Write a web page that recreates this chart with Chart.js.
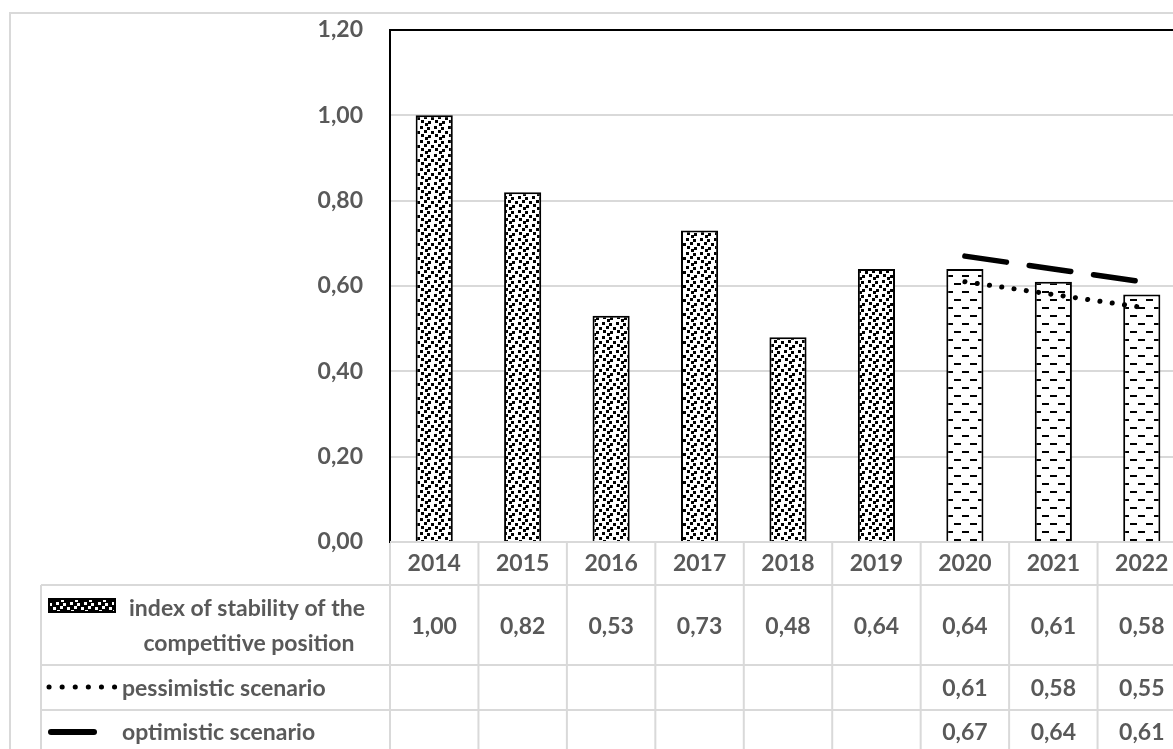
<!DOCTYPE html>
<html><head><meta charset="utf-8">
<script src="https://cdn.jsdelivr.net/npm/chart.js@4/dist/chart.umd.min.js"></script>
<style>
html,body{margin:0;padding:0;background:#fff;overflow:hidden;}
#wrap{width:1173px;height:749px;overflow:hidden;position:relative;}
canvas{display:block;}
</style></head><body>
<div id="wrap"><canvas id="c" width="1186" height="749"></canvas></div>
<script>
// ---- data ----
const years = ['2014','2015','2016','2017','2018','2019','2020','2021','2022'];
const stabilityIndex = [1.00, 0.82, 0.53, 0.73, 0.48, 0.64, 0.64, 0.61, 0.58];
const pessimistic = [null, null, null, null, null, null, 0.61, 0.58, 0.55];
const optimistic  = [null, null, null, null, null, null, 0.67, 0.64, 0.61];
const seriesNames = ['index of stability of the competitive position', 'pessimistic scenario', 'optimistic scenario'];
const seriesNameLines = ['index of stability of the', 'competitive position'];
const forecastFrom = '2020';
const yMax = 1.2;
const yStep = 0.2;

const fmt = v => (v == null ? '' : Number(v).toFixed(2).replace('.', ','));
const TEXT = '#595959';
const GRID = '#d9d9d9';
const FSIZE = 23;
const FONT = '700 ' + FSIZE + 'px Lato';

const canvas = document.getElementById('c');
const ctx = canvas.getContext('2d');

function makeConfetti(bg, fg) {
  const S = 14;
  const c = document.createElement('canvas'); c.width = S; c.height = S;
  const g = c.getContext('2d');
  g.fillStyle = bg; g.fillRect(0, 0, S, S);
  g.fillStyle = fg;
  [[0,0],[7,1],[4,4],[11,5],[1,8],[8,9],[5,11]].forEach(([x,y]) => {
    g.fillRect(x, y, 3, 3);
    if (y + 3 > S) g.fillRect(x, y - S, 3, 3);
    if (x + 3 > S) g.fillRect(x - S, y, 3, 3);
  });
  return ctx.createPattern(c, 'repeat');
}
function makeDashes() {
  const c = document.createElement('canvas'); c.width = 16; c.height = 16;
  const g = c.getContext('2d');
  g.fillStyle = '#fff'; g.fillRect(0, 0, 16, 16);
  g.fillStyle = '#000';
  g.fillRect(2, 3, 7, 2);
  g.fillRect(10, 11, 7, 2);
  g.fillRect(0, 11, 1, 2);
  return ctx.createPattern(c, 'repeat');
}
const confetti = makeConfetti('#fff', '#000');
const confettiKey = makeConfetti('#000', '#fff');
const dashes = makeDashes();

const tablePlugin = {
  id: 'tablePlugin',
  beforeDraw(chart) {
    const c = chart.ctx;
    c.save();
    c.fillStyle = '#fff';
    c.fillRect(0, 0, chart.width, chart.height);
    c.strokeStyle = GRID; c.lineWidth = 2;
    c.beginPath();
    c.moveTo(10, chart.height); c.lineTo(10, 13); c.lineTo(chart.width, 13);
    c.stroke();
    c.restore();
  },
  afterDraw(chart) {
    const c = chart.ctx;
    const xs = chart.scales.x;
    const area = chart.chartArea;
    const n = years.length;
    const cw = (xs.right - xs.left) / n;
    const rowTop = [area.bottom, 585, 665, 710, chart.height + 5];
    const labelLeft = 41;
    c.save();
    // plot top border
    c.strokeStyle = '#000'; c.lineWidth = 2;
    c.beginPath(); c.moveTo(area.left - 1, area.top); c.lineTo(area.right, area.top); c.stroke();
    // table grid
    c.strokeStyle = GRID; c.lineWidth = 2;
    c.beginPath();
    c.moveTo(area.left, rowTop[0]); c.lineTo(chart.width, rowTop[0]);
    for (let r = 1; r <= 3; r++) { c.moveTo(labelLeft, rowTop[r]); c.lineTo(chart.width, rowTop[r]); }
    c.moveTo(labelLeft, rowTop[1]); c.lineTo(labelLeft, chart.height);
    for (let k = 0; k <= n; k++) {
      const x = xs.left + k * cw;
      c.moveTo(x, k === 0 ? rowTop[0] + 1 : rowTop[0]); c.lineTo(x, chart.height);
    }
    c.stroke();
    // text
    c.fillStyle = TEXT; c.font = FONT;
    c.textAlign = 'center'; c.textBaseline = 'middle';
    const rowsData = [stabilityIndex, pessimistic, optimistic];
    const rowY = [627, 689, 733];
    years.forEach((y, i) => {
      const cx = xs.getPixelForValue(i);
      c.fillText(y, cx, 564);
      rowsData.forEach((arr, r) => { if (arr[i] != null) c.fillText(fmt(arr[i]), cx, rowY[r]); });
    });
    // series labels
    c.fillText(seriesNameLines[0], 247, 609);
    c.fillText(seriesNameLines[1], 249, 644);
    c.textAlign = 'left';
    c.fillText(seriesNames[1], 122, 689);
    c.fillText(seriesNames[2], 122, 733);
    // legend keys
    c.fillStyle = confettiKey;
    c.fillRect(49, 599, 66, 13);
    c.strokeStyle = '#000'; c.lineWidth = 2;
    c.strokeRect(49, 599, 66, 13);
    c.lineCap = 'round';
    c.lineWidth = 5; c.setLineDash([0.1, 13]);
    c.beginPath(); c.moveTo(49, 687); c.lineTo(117, 687); c.stroke();
    c.setLineDash([]);
    c.lineWidth = 6;
    c.beginPath(); c.moveTo(51, 732); c.lineTo(94, 732); c.stroke();
    c.restore();
  }
};

new Chart(ctx, {
  type: 'bar',
  data: {
    labels: years,
    datasets: [
      {
        type: 'bar', label: seriesNames[0], data: stabilityIndex,
        backgroundColor: years.map(y => (y >= forecastFrom ? dashes : confetti)),
        borderColor: '#000', borderWidth: 2, borderSkipped: 'start',
        barPercentage: 0.42, categoryPercentage: 1, order: 2
      },
      {
        type: 'line', label: seriesNames[1], data: pessimistic,
        borderColor: '#000', borderWidth: 5, borderDash: [0.1, 12.3], borderCapStyle: 'round',
        pointRadius: 0, fill: false, tension: 0, order: 1
      },
      {
        type: 'line', label: seriesNames[2], data: optimistic,
        borderColor: '#000', borderWidth: 5.5, borderDash: [42, 23], borderCapStyle: 'round',
        pointRadius: 0, fill: false, tension: 0, order: 0
      }
    ]
  },
  options: {
    responsive: false, animation: false, devicePixelRatio: 1,
    layout: { padding: { top: 30, left: 0, right: 0, bottom: 0 } },
    plugins: { legend: { display: false }, tooltip: { enabled: false } },
    scales: {
      x: {
        grid: { display: false }, border: { display: false }, ticks: { display: false },
        afterFit(s) { s.height = 207; }
      },
      y: {
        min: 0, max: yMax,
        ticks: { stepSize: yStep, padding: 0, color: TEXT, font: { family: 'Lato', weight: 'bold', size: FSIZE }, callback: v => fmt(v) },
        grid: { color: GRID, lineWidth: 2, drawTicks: true, tickLength: 27, tickColor: 'rgba(0,0,0,0)' },
        border: { display: true, color: '#000', width: 2 },
        afterFit(s) { s.width = 390; }
      }
    }
  },
  plugins: [tablePlugin]
});
</script>
</body></html>
